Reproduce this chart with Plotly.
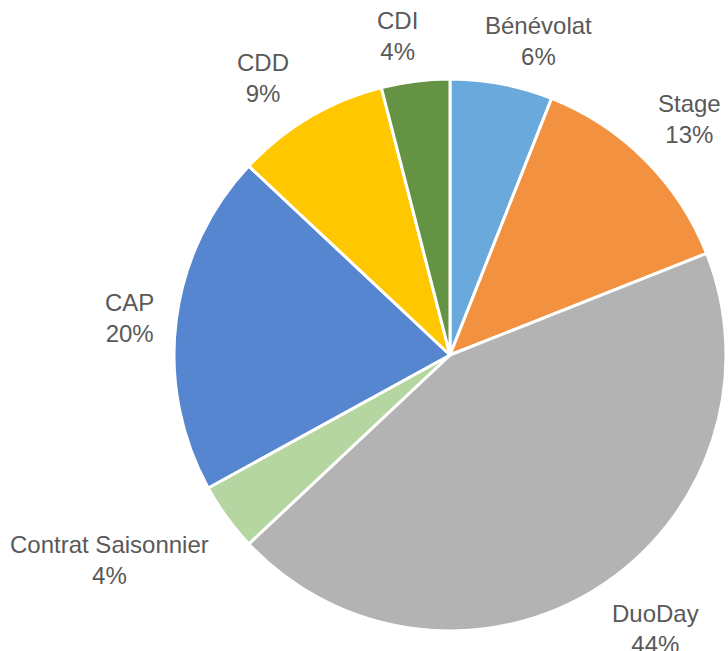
import math
import plotly.graph_objects as go

labels = ["Bénévolat", "Stage", "DuoDay", "Contrat Saisonnier", "CAP", "CDD", "CDI"]
values = [6, 13, 44, 4, 20, 9, 4]

colors = ["#6AA9DC", "#F2913F", "#B3B3B3", "#B5D6A0", "#5586CF", "#FFC700", "#649343"]
# label placement: radial distance (in radii) and angular nudge (deg) from slice mid-angle
label_dist = [1.18, 1.22, 1.24, 1.44, 1.17, 1.21, 1.17]
label_nudge = [4.9, 0.4, -4.5, 4.9, -0.6, -3.5, -2.1]

W, H = 728, 651
dom_x = [174 / W, 726 / W]
dom_y = [1 - 631 / H, 1 - 79 / H]

fig = go.Figure(go.Pie(
    labels=labels,
    values=values,
    sort=False,
    direction="clockwise",
    rotation=0,
    marker=dict(colors=colors, line=dict(color="white", width=3)),
    textinfo="none",
    hoverinfo="label+percent",
    showlegend=False,
    domain=dict(x=dom_x, y=dom_y),
))

cx = (dom_x[0] + dom_x[1]) / 2 * W
cy = (1 - (dom_y[0] + dom_y[1]) / 2) * H
r = min((dom_x[1] - dom_x[0]) * W, (dom_y[1] - dom_y[0]) * H) / 2
total = sum(values)
cum = 0
for lab, v, d, nud in zip(labels, values, label_dist, label_nudge):
    mid = (cum + v / 2) / total * 2 * math.pi + math.radians(nud)
    cum += v
    px = cx + math.sin(mid) * r * d
    py = cy - math.cos(mid) * r * d
    pct = round(v / total * 100)
    fig.add_annotation(
        x=px / W, y=1 - py / H, xref="paper", yref="paper",
        text=f"{lab}<br>{pct}%", showarrow=False,
        xanchor="center", yanchor="middle",
        font=dict(family="Liberation Sans, Arial, sans-serif", size=24, color="#595959"),
    )

fig.update_layout(
    width=W, height=H,
    margin=dict(l=0, r=0, t=0, b=0),
    paper_bgcolor="white",
    plot_bgcolor="white",
)

fig.write_html("out.html", config={"displayModeBar": False},
               post_script="document.body.style.margin='0';document.body.style.overflow='hidden';")
